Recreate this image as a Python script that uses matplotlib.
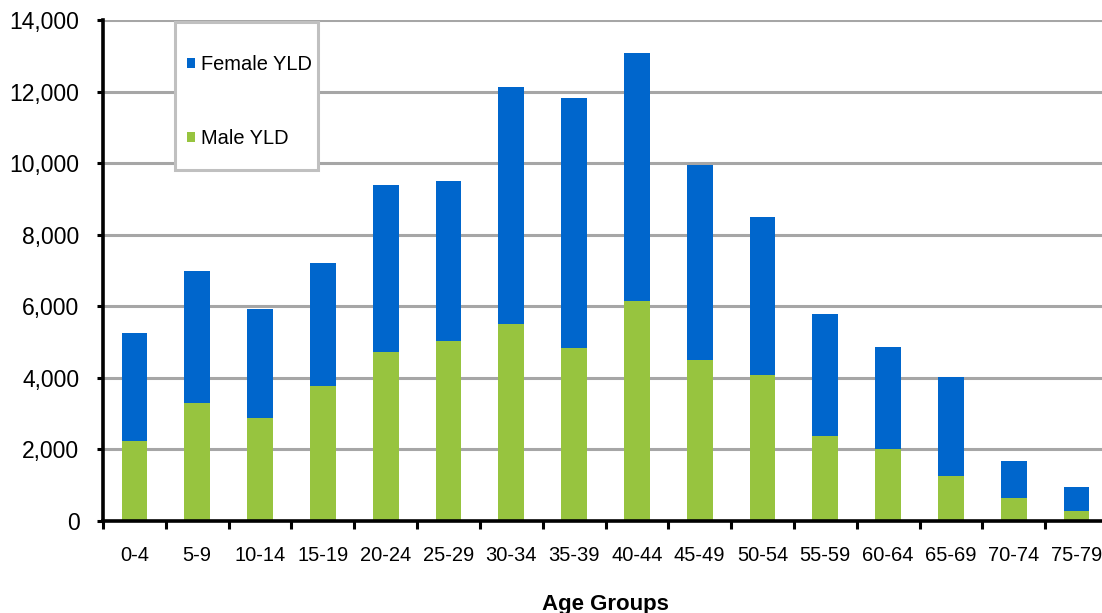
import matplotlib
matplotlib.use("Agg")
import matplotlib.pyplot as plt
from matplotlib.patches import Rectangle
from matplotlib.ticker import FuncFormatter, MultipleLocator
import numpy as np

age_groups = ["0-4", "5-9", "10-14", "15-19", "20-24", "25-29", "30-34", "35-39",
              "40-44", "45-49", "50-54", "55-59", "60-64", "65-69", "70-74", "75-79"]
male_yld = [2230, 3290, 2875, 3770, 4720, 5040, 5505, 4830,
            6140, 4500, 4080, 2380, 2025, 1270, 650, 280]
total_yld = [5255, 6990, 5925, 7210, 9390, 9490, 12130, 11815,
             13090, 9945, 8490, 5790, 4860, 4030, 1690, 957]
female_yld = [t - m for t, m in zip(total_yld, male_yld)]

plt.rcParams["font.family"] = ["Liberation Sans", "DejaVu Sans"]

fig = plt.figure(figsize=(11.02, 6.13), dpi=100)
ax = fig.add_axes([103 / 1102, 1 - 521 / 613, 1005 / 1102, 501 / 613])

x = np.arange(len(age_groups))
green = "#97c43f"
blue = "#0066cc"
male_bars = ax.bar(x, male_yld, width=0.41, color=green, zorder=3, label="Male YLD")
female_bars = ax.bar(x, female_yld, width=0.41, bottom=male_yld, color=blue,
                     zorder=3, label="Female YLD")

ax.set_xlim(-0.5, len(age_groups) - 0.5)
ax.set_ylim(0, 14000)
ax.yaxis.set_major_locator(MultipleLocator(2000))
ax.yaxis.set_major_formatter(FuncFormatter(lambda v, p: f"{int(v):,}"))
ax.grid(axis="y", color="#a6a6a6", linewidth=2.2, zorder=0)
ax.set_axisbelow(True)

for s in ("top", "right"):
    ax.spines[s].set_visible(False)
for s in ("left", "bottom"):
    ax.spines[s].set_linewidth(2.6)
    ax.spines[s].set_color("black")
    ax.spines[s].set_zorder(4)

ax.set_xticks(x)
ax.set_xticklabels(age_groups)
ax.set_xticks(np.arange(-0.5, len(age_groups), 1.0), minor=True)
ax.tick_params(axis="x", which="major", length=0, pad=18, labelsize=14.5)
ax.tick_params(axis="x", which="minor", length=6, width=2.2, direction="out")
ax.tick_params(axis="y", length=4, width=2.2, direction="out", pad=13, labelsize=16.5)

ax.set_xlabel("Age Groups", fontsize=16, fontweight="bold", labelpad=21)

# legend box
fig.patches.append(Rectangle((175 / 1102, 1 - 170 / 613), 143 / 1102, 148 / 613,
                             transform=fig.transFigure, facecolor="white",
                             edgecolor="#c0c0c0", linewidth=2.2, zorder=5))
leg = fig.legend(handles=[female_bars, male_bars], labels=["Female YLD", "Male YLD"],
                 loc="upper left", bbox_to_anchor=(187 / 1102, 1 - 55 / 613),
                 frameon=False, fontsize=14.4, handlelength=0.42, handleheight=0.42,
                 handletextpad=0.3, labelspacing=2.75, borderpad=0, borderaxespad=0)
leg.set_zorder(6)

fig.savefig("out.png", dpi=100)
